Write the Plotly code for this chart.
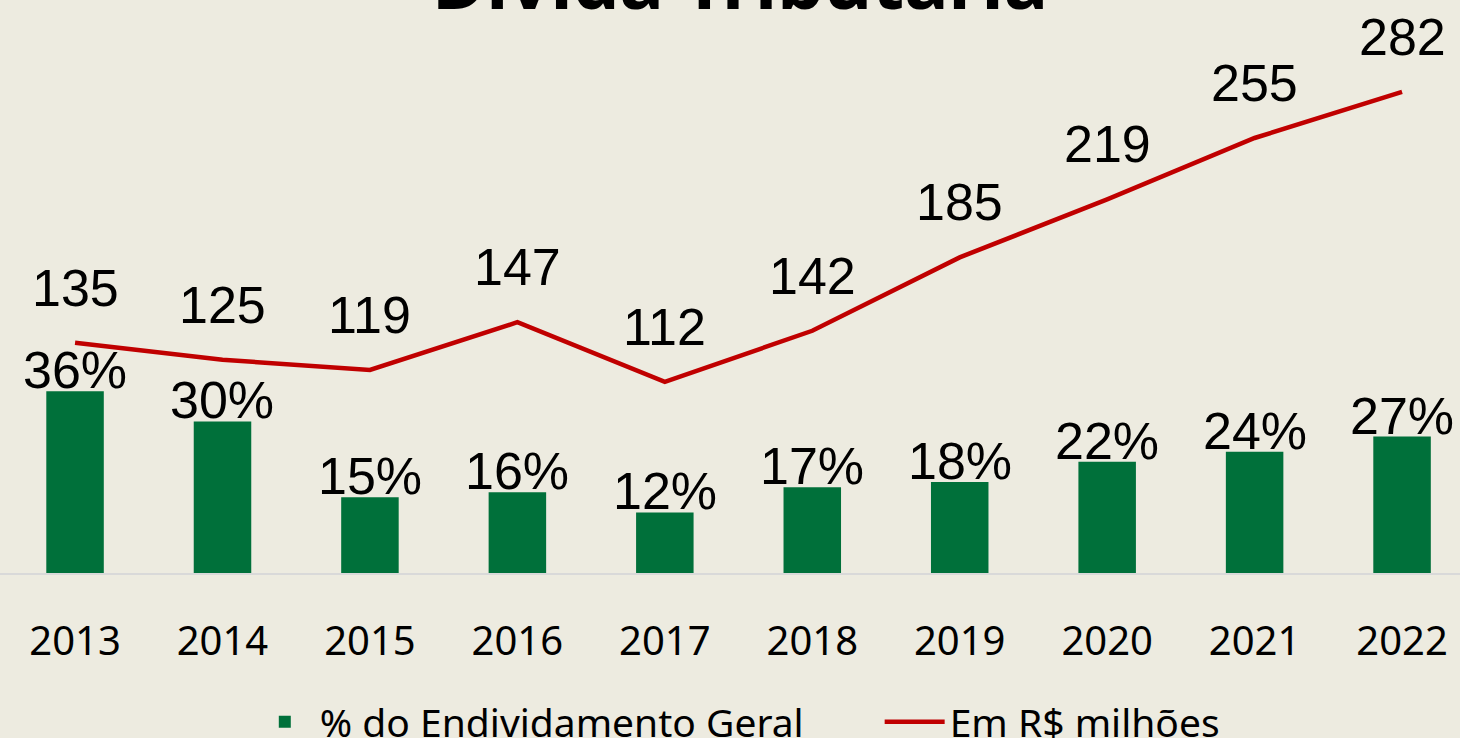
import plotly.graph_objects as go

years = ["2013", "2014", "2015", "2016", "2017", "2018", "2019", "2020", "2021", "2022"]
pct_endividamento = [36, 30, 15, 16, 12, 17, 18, 22, 24, 27]
pct_labels = ["36%", "30%", "15%", "16%", "12%", "17%", "18%", "22%", "24%", "27%"]
em_milhoes = [135, 125, 119, 147, 112, 142, 185, 219, 255, 282]

BG = "#EDEBE0"
GREEN = "#00703A"
RED = "#C00000"
TICK_FONT = "Noto Sans"
LABEL_FONT = "Liberation Sans"

fig = go.Figure()
fig.add_trace(go.Bar(
    x=years, y=pct_endividamento,
    name="% do Endividamento Geral" + "\u00a0" * 7,
    marker=dict(color=GREEN, line=dict(width=0)), width=0.39,
))
fig.add_trace(go.Scatter(
    x=years, y=em_milhoes, name="Em R$ milhões", mode="lines",
    line=dict(color=RED, width=4.5), yaxis="y2",
))

annotations = []
for i, (v, lab) in enumerate(zip(pct_endividamento, pct_labels)):
    annotations.append(dict(x=i, y=v, xref="x", yref="y", text=lab, showarrow=False,
                            yanchor="middle", yshift=21,
                            font=dict(family=LABEL_FONT, size=52, color="#000000")))
for i, v in enumerate(em_milhoes):
    annotations.append(dict(x=i, y=v, xref="x", yref="y2", text=str(v), showarrow=False,
                            yanchor="middle", yshift=55,
                            font=dict(family=LABEL_FONT, size=52, color="#000000")))
annotations.append(dict(x=0.507, y=0.995, xref="paper", yref="paper", text="<b>Dívida Tributária</b>",
                        showarrow=False, xanchor="center", yanchor="bottom",
                        font=dict(family="Noto Sans", size=74, color="#000000")))

fig.update_layout(
    width=1460, height=738,
    margin=dict(l=0, r=0, t=30, b=165, autoexpand=False),
    paper_bgcolor=BG, plot_bgcolor=BG,
    showlegend=True,
    legend=dict(orientation="h", x=0.505, xanchor="center", y=-0.274, yanchor="middle",
                font=dict(family=TICK_FONT, size=39, color="#000000"),
                bgcolor="rgba(0,0,0,0)", itemwidth=60, tracegroupgap=0),
    xaxis=dict(type="category", range=[-0.509, 9.393], showgrid=False, zeroline=False,
               showline=True, linecolor="#D9D9D9", linewidth=2,
               ticks="outside", ticklen=0, ticklabelstandoff=32,
               tickfont=dict(family=TICK_FONT, size=40, color="#000000")),
    yaxis=dict(range=[0, 107.5], visible=False, showgrid=False, zeroline=False),
    yaxis2=dict(range=[0, 318.3], overlaying="y", visible=False, showgrid=False, zeroline=False),
    annotations=annotations,
    bargap=0.61,
)

fig.write_html("out.html", config={"displayModeBar": False},
               post_script="document.body.style.margin='0px';")
